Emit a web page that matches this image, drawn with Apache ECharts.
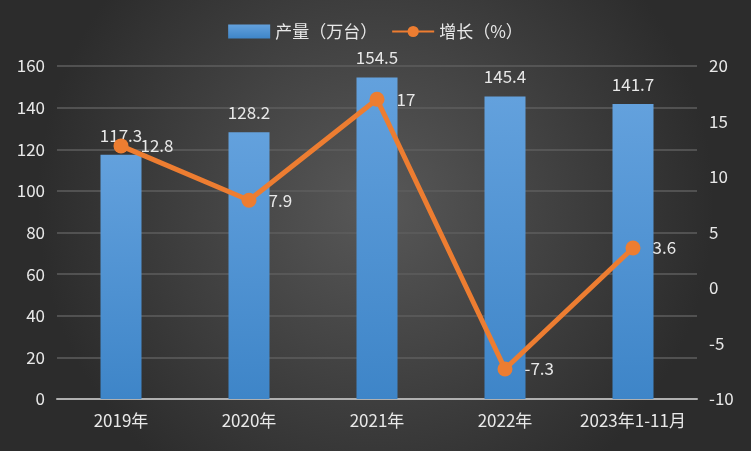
<!DOCTYPE html>
<html><head><meta charset="utf-8">
<script src="https://cdn.jsdelivr.net/npm/echarts@6/dist/echarts.min.js"></script>
<style>html,body{margin:0;padding:0;background:#3a3a3a}#c{width:751px;height:451px}</style>
</head><body><div id="c"></div>
<script>
var categories = ['2019年','2020年','2021年','2022年','2023年1-11月'];
var output = [117.3, 128.2, 154.5, 145.4, 141.7];
var growth = [12.8, 7.9, 17, -7.3, 3.6];
var leftTicks = {min:0, max:160, interval:20};
var rightTicks = {min:-10, max:20, interval:5};

var chart = echarts.init(document.getElementById('c'));
var txt = '#e8e8e8';
var font = '"Noto Sans CJK SC", "Noto Sans", sans-serif';
chart.setOption({
  backgroundColor: {type:'radial', x:0.5, y:0.45, r:0.75, colorStops:[{offset:0,color:'#585858'},{offset:1,color:'#2c2c2c'}]},
  textStyle:{fontFamily:font},
  legend:{top:18, left:'center', itemGap:14, itemWidth:42, itemHeight:14,
    textStyle:{color:txt, fontSize:17, fontFamily:font},
    data:[{name:'产量（万台）', icon:'rect'}, {name:'增长（%）'}]},
  grid:{left:57, right:54, top:66, bottom:52},
  xAxis:{type:'category', data:categories,
    axisLine:{lineStyle:{color:'#b0b0b0', width:2}}, axisTick:{show:false},
    axisLabel:{color:txt, fontSize:17, margin:13, interval:0}},
  yAxis:[
    {type:'value', min:leftTicks.min, max:leftTicks.max, interval:leftTicks.interval,
     axisLine:{show:false}, axisTick:{show:false},
     axisLabel:{color:txt, fontSize:17, margin:12},
     splitLine:{lineStyle:{color:'#5e5e5e', width:1.5}}},
    {type:'value', min:rightTicks.min, max:rightTicks.max, interval:rightTicks.interval,
     axisLine:{show:false}, axisTick:{show:false},
     axisLabel:{color:txt, fontSize:17, margin:12},
     splitLine:{show:false}}
  ],
  series:[
    {name:'产量（万台）', type:'bar', data:output, barWidth:41,
     itemStyle:{color:{type:'linear',x:0,y:0,x2:0,y2:1,colorStops:[{offset:0,color:'#63a1dd'},{offset:1,color:'#3e85c8'}]}},
     label:{show:true, position:'top', distance:11, color:txt, fontSize:17}},
    {name:'增长（%）', type:'line', yAxisIndex:1, data:growth,
     symbol:'circle', symbolSize:15,
     lineStyle:{color:'#ed7d31', width:5},
     itemStyle:{color:'#ed7d31'},
     label:{show:true, position:'right', distance:12, color:txt, fontSize:17}}
  ]
});
</script></body></html>
